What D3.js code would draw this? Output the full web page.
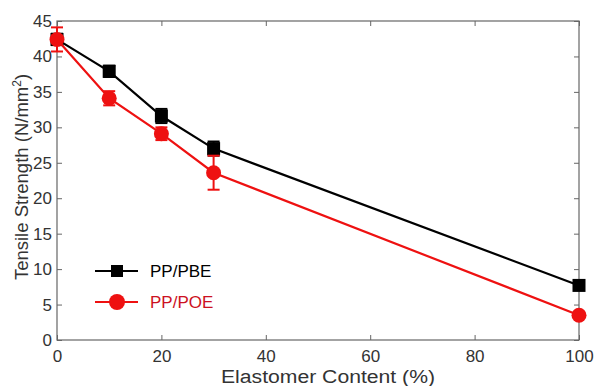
<!DOCTYPE html>
<html>
<head>
<meta charset="utf-8">
<script src="https://cdn.jsdelivr.net/npm/d3@7"></script>
<style>
body { margin: 0; background: #fff; }
text { font-family: "Liberation Sans", Arial, sans-serif; }
</style>
</head>
<body>
<svg id="chart" width="602" height="386"></svg>
<script>
var content = [0, 10, 20, 30, 100];
var pbe = [42.4, 37.9, 31.6, 27.0, 7.7];
var pbeErr = [0.8, 0.8, 1.0, 1.0, 0.5];
var poe = [42.4, 34.1, 29.1, 23.6, 3.5];
var poeErr = [1.7, 1.0, 0.9, 2.4, 0.3];
var xTicks = [0, 20, 40, 60, 80, 100];
var yTicks = [0, 5, 10, 15, 20, 25, 30, 35, 40, 45];

var margin = {left: 57, top: 21, right: 23, bottom: 46};
var width = 602 - margin.left - margin.right;
var height = 386 - margin.top - margin.bottom;

var svg = d3.select("#chart");
var g = svg.append("g")
    .attr("transform", "translate(" + margin.left + "," + margin.top + ")");

var x = d3.scaleLinear().domain([0, 100]).range([0, width]);
var y = d3.scaleLinear().domain([0, 45]).range([height, 0]);

var axisColor = "#666";

// box and ticks on all sides, pointing in
g.append("rect")
    .attr("width", width).attr("height", height)
    .attr("fill", "none").attr("stroke", axisColor).attr("stroke-width", 1.2);

function styleAxis(sel) {
    sel.select(".domain").remove();
    sel.selectAll(".tick line").attr("stroke", axisColor);
    sel.selectAll(".tick text")
        .attr("fill", "#333").style("font-size", "17px")
        .style("font-family", "'Liberation Sans', Arial, sans-serif");
}

g.append("g").attr("transform", "translate(0," + height + ")")
    .call(d3.axisBottom(x).tickValues(xTicks).tickSizeInner(-5).tickPadding(10))
    .call(styleAxis);
g.append("g")
    .call(d3.axisTop(x).tickValues(xTicks).tickSizeInner(-5).tickFormat(""))
    .call(styleAxis);
g.append("g")
    .call(d3.axisLeft(y).tickValues(yTicks).tickSizeInner(-5).tickPadding(5))
    .call(styleAxis);
g.append("g").attr("transform", "translate(" + width + ",0)")
    .call(d3.axisRight(y).tickValues(yTicks).tickSizeInner(-5).tickFormat(""))
    .call(styleAxis);

// axis titles
svg.append("text")
    .attr("x", 328).attr("y", 383)
    .attr("text-anchor", "middle")
    .attr("fill", "#333").style("font-size", "18px")
    .attr("textLength", 214).attr("lengthAdjust", "spacingAndGlyphs")
    .text("Elastomer Content (%)");

var yl = svg.append("text")
    .attr("transform", "translate(28,177) rotate(-90)")
    .attr("text-anchor", "middle")
    .attr("fill", "#333").style("font-size", "18.5px");
yl.append("tspan").text("Tensile Strength (N/mm");
yl.append("tspan").attr("dy", -7).style("font-size", "12px").text("2");
yl.append("tspan").attr("dy", 7).text(")");

var line = d3.line()
    .x(function(d) { return x(d.x); })
    .y(function(d) { return y(d.y); });

function drawSeries(vals, errs, color, marker) {
    var data = content.map(function(c, i) {
        return {x: c, y: vals[i], e: errs[i]};
    });
    var s = g.append("g");
    s.append("path").datum(data)
        .attr("d", line).attr("fill", "none")
        .attr("stroke", color).attr("stroke-width", 2.2);

    var eb = s.selectAll(".err").data(data).enter().append("g");
    eb.append("line")
        .attr("x1", function(d) { return x(d.x); })
        .attr("x2", function(d) { return x(d.x); })
        .attr("y1", function(d) { return y(d.y - d.e); })
        .attr("y2", function(d) { return y(d.y + d.e); })
        .attr("stroke", color).attr("stroke-width", 2);
    [-1, 1].forEach(function(sgn) {
        eb.append("line")
            .attr("x1", function(d) { return x(d.x) - 6; })
            .attr("x2", function(d) { return x(d.x) + 6; })
            .attr("y1", function(d) { return y(d.y + sgn * d.e); })
            .attr("y2", function(d) { return y(d.y + sgn * d.e); })
            .attr("stroke", color).attr("stroke-width", 2);
    });

    if (marker == "square") {
        s.selectAll(".m").data(data).enter().append("rect")
            .attr("x", function(d) { return x(d.x) - 6.5; })
            .attr("y", function(d) { return y(d.y) - 6.5; })
            .attr("width", 13).attr("height", 13)
            .attr("fill", color);
    } else {
        s.selectAll(".m").data(data).enter().append("circle")
            .attr("cx", function(d) { return x(d.x); })
            .attr("cy", function(d) { return y(d.y); })
            .attr("r", 7.5)
            .attr("fill", color);
    }
}

drawSeries(pbe, pbeErr, "#000", "square");
drawSeries(poe, poeErr, "#ee1111", "circle");

// legend
var legend = [
    {name: "PP/PBE", color: "#000", text: "#000", marker: "square", y: 271},
    {name: "PP/POE", color: "#ee1111", text: "#cc1122", marker: "circle", y: 302}
];
legend.forEach(function(l) {
    svg.append("line")
        .attr("x1", 95).attr("x2", 138).attr("y1", l.y).attr("y2", l.y)
        .attr("stroke", l.color).attr("stroke-width", 2.2);
    if (l.marker == "square") {
        svg.append("rect").attr("x", 111).attr("y", l.y - 6)
            .attr("width", 12).attr("height", 12).attr("fill", l.color);
    } else {
        svg.append("circle").attr("cx", 117).attr("cy", l.y)
            .attr("r", 8).attr("fill", l.color);
    }
    svg.append("text")
        .attr("x", 150).attr("y", l.y).attr("dy", "0.35em")
        .attr("fill", l.text).style("font-size", "17px")
        .text(l.name);
});
</script>
</body>
</html>
